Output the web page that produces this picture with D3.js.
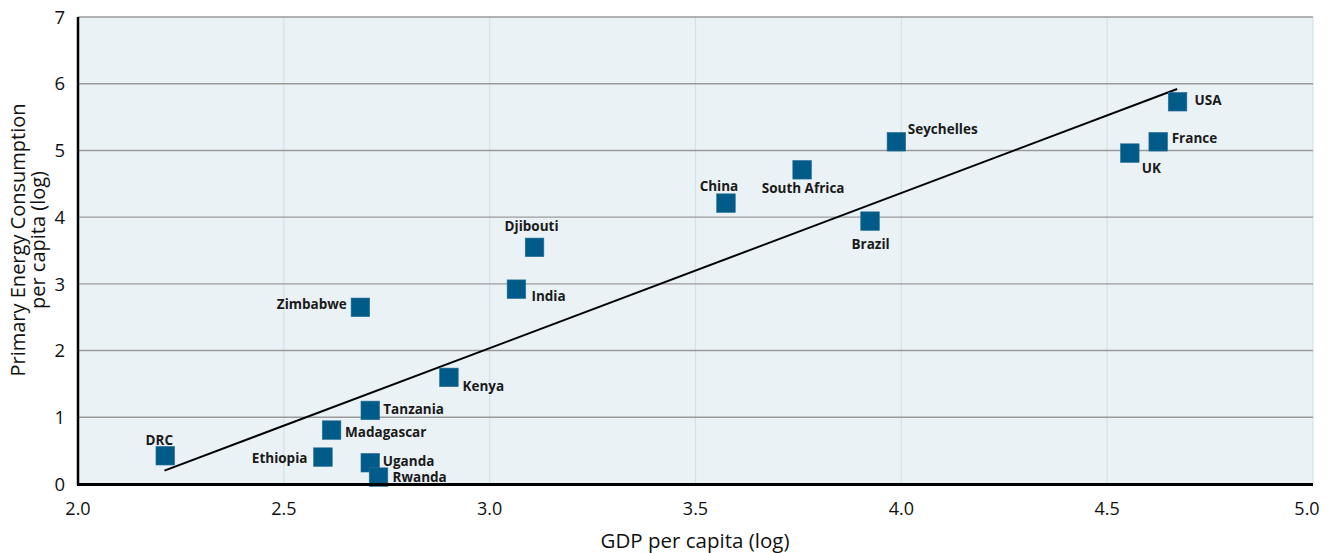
<!DOCTYPE html>
<html>
<head>
<meta charset="utf-8">
<script src="https://cdn.jsdelivr.net/npm/d3@7"></script>
<style>
html,body{margin:0;padding:0;background:#fff;}
svg{display:block;font-family:"Open Sans",sans-serif;}
</style>
</head>
<body>
<svg id="chart" width="1331" height="553"></svg>
<script>
// ---- data ----
const countries = ["DRC","Ethiopia","Madagascar","Tanzania","Uganda","Rwanda","Kenya","Zimbabwe","India","Djibouti","China","South Africa","Brazil","Seychelles","UK","France","USA"];
const gdpLog    = [2.212, 2.595, 2.616, 2.710, 2.710, 2.730, 2.901, 2.686, 3.065, 3.109, 3.574, 3.759, 3.924, 3.988, 4.555, 4.624, 4.671];
const energyLog = [0.424, 0.403, 0.808, 1.103, 0.319, 0.103, 1.598, 2.648, 2.920, 3.547, 4.210, 4.710, 3.940, 5.130, 4.960, 5.130, 5.730];
const trendX = [2.21, 4.67];
const trendY = [0.20, 5.92];
const xTicks = [2.0, 2.5, 3.0, 3.5, 4.0, 4.5, 5.0];
const yTicks = [0, 1, 2, 3, 4, 5, 6, 7];

// label placement (pixel offsets from marker centre)
const labelPos = {
  "DRC":[-6,-11,"middle"], "Ethiopia":[-15.5,6,"end"], "Madagascar":[13.5,7,"start"],
  "Tanzania":[13,4,"start"], "Uganda":[12.5,3,"start"], "Rwanda":[14,5,"start"],
  "Kenya":[13.6,14,"start"], "Zimbabwe":[-13.6,2,"end"], "India":[15,12,"start"],
  "Djibouti":[-3,-16,"middle"], "China":[-7,-12,"middle"], "South Africa":[1,23,"middle"],
  "Brazil":[0.5,27.5,"middle"], "Seychelles":[11.4,-7.7,"start"], "UK":[12,20,"start"],
  "France":[13.5,1,"start"], "USA":[17,3,"start"]
};

const svg = d3.select("#chart");
const L = 78, R = 1313, T = 17, B = 484;
const x = d3.scaleLinear().domain([2, 5]).range([L, R]);
const y = d3.scaleLinear().domain([0, 7]).range([B, T]);

// background
svg.append("rect").attr("x", L).attr("y", T).attr("width", R - L).attr("height", B - T)
  .attr("fill", "#eaf2f6");

// vertical gridlines
svg.append("g").selectAll("line").data(xTicks.slice(1)).join("line")
  .attr("x1", d => x(d)).attr("x2", d => x(d)).attr("y1", T).attr("y2", B)
  .attr("stroke", "#d5e1e9").attr("stroke-width", 1.2);

// horizontal gridlines
svg.append("g").selectAll("line").data(yTicks.slice(1)).join("line")
  .attr("x1", L).attr("x2", R).attr("y1", d => y(d)).attr("y2", d => y(d))
  .attr("stroke", "#9a9a9a").attr("stroke-width", 1.4);

// trend line
svg.append("line")
  .attr("x1", x(trendX[0])).attr("y1", y(trendY[0]))
  .attr("x2", x(trendX[1])).attr("y2", y(trendY[1]))
  .attr("stroke", "#000").attr("stroke-width", 2);

// markers
const pts = countries.map((c, i) => ({name: c, gx: gdpLog[i], ey: energyLog[i]}));
const S = 18.6;
svg.append("g").selectAll("rect").data(pts).join("rect")
  .attr("x", d => x(d.gx) - S / 2).attr("y", d => y(d.ey) - S / 2)
  .attr("width", S).attr("height", S)
  .attr("fill", "#005b88").attr("stroke", "#2a7099").attr("stroke-width", 0.6);

// labels
svg.append("g").selectAll("text").data(pts).join("text")
  .attr("x", d => x(d.gx) + labelPos[d.name][0])
  .attr("y", d => y(d.ey) + labelPos[d.name][1])
  .attr("text-anchor", d => labelPos[d.name][2])
  .attr("font-size", 13.5).attr("font-weight", 700).attr("fill", "#1a1a1a")
  .text(d => d.name);

// axes lines
svg.append("line").attr("x1", L).attr("x2", L).attr("y1", T).attr("y2", B + 1)
  .attr("stroke", "#000").attr("stroke-width", 2.5);
svg.append("line").attr("x1", L - 1).attr("x2", R).attr("y1", B + 0.5).attr("y2", B + 0.5)
  .attr("stroke", "#000").attr("stroke-width", 3);

// tick labels
svg.append("g").selectAll("text").data(xTicks).join("text")
  .attr("x", d => d === 5 ? x(d) - 6 : x(d)).attr("y", 515)
  .attr("text-anchor", "middle").attr("font-size", 18).attr("fill", "#111")
  .text(d => d3.format(".1f")(d));
svg.append("g").selectAll("text").data(yTicks).join("text")
  .attr("x", 65).attr("y", d => y(d)).attr("dy", "0.36em")
  .attr("text-anchor", "end").attr("font-size", 18.5).attr("fill", "#111")
  .text(d => d);

// axis titles
svg.append("text").attr("x", 695).attr("y", 548).attr("text-anchor", "middle")
  .attr("font-size", 20.5).attr("fill", "#111").text("GDP per capita (log)");
const yt = svg.append("text").attr("transform", `translate(25,240) rotate(-90)`)
  .attr("text-anchor", "middle").attr("font-size", 20).attr("fill", "#111");
yt.append("tspan").attr("x", 0).attr("y", 0).text("Primary Energy Consumption");
yt.append("tspan").attr("x", 0).attr("y", 20).text("per capita (log)");
</script>
</body>
</html>
